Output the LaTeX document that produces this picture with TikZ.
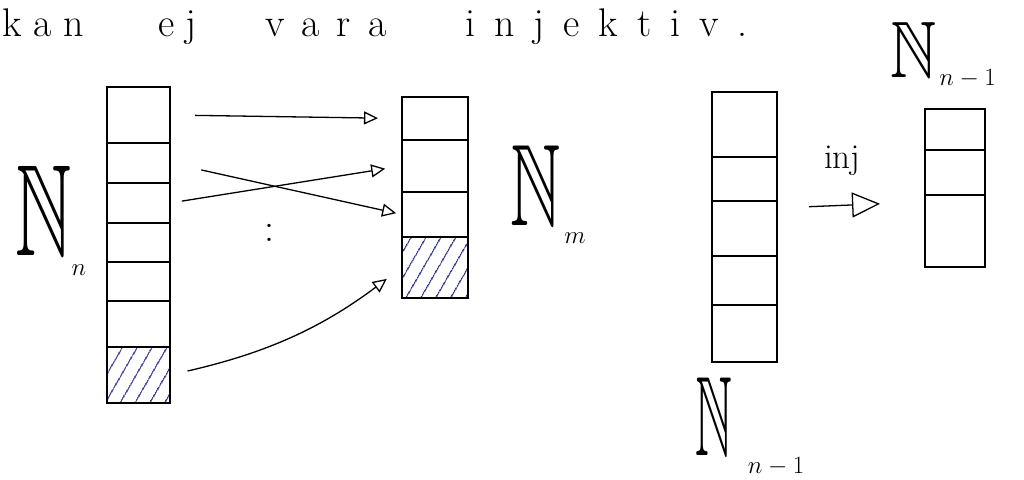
\documentclass[tikz,border=0pt]{standalone}
\usepackage{fontspec}
\usepackage{amssymb}
\usepackage{graphicx}
\usetikzlibrary{arrows.meta,patterns.meta}
\definecolor{hatchblue}{RGB}{40,40,145}
% blackboard N with a lowered subscript:
% #1 size of N, #2 horizontal squeeze, #3 subscript size, #4 drop, #5 subscript, #6 gap
\newcommand{\natlab}[6]{%
  \scalebox{#2}[1]{\fontsize{#1}{#1}\selectfont$\mathbb{N}$}%
  \hspace{#6}%
  \raisebox{-#4}{\fontsize{#3}{#3}\selectfont$#5$}}
\begin{document}
\begin{tikzpicture}[x=1pt,y=-1pt,
  cell/.style={draw, line width=1.4pt, inner sep=0pt, outer sep=0pt},
  hatch/.style={pattern={Lines[angle=60,distance=13pt,line width=1.3pt]}, pattern color=hatchblue},
  map/.style={line width=1.3pt, -{Triangle[open,length=14pt,width=13pt,line width=1.3pt]}},
  bigmap/.style={line width=1.3pt, -{Triangle[open,length=28pt,width=25pt,line width=1.3pt]}},
  words/.style={anchor=base west, inner sep=0pt, font=\fontsize{40}{40}\selectfont},
  lab/.style={anchor=base west, inner sep=0pt},
]
\useasboundingbox (0,0) rectangle (1024,479);

% heading, written with wide letter gaps
\node[words] (w1) at (2,36)   {k\hspace{12pt}a\hspace{12pt}n};
\node[words] (w2) at (158,36) {e\hspace{11pt}j};
\node[words] (w3) at (265,36) {v\hspace{17pt}a\hspace{17pt}r\hspace{17pt}a};
\node[words] (w4) at (465,36) {i\hspace{19pt}n\hspace{19pt}j\hspace{19pt}e\hspace{19pt}k\hspace{19pt}t\hspace{19pt}i\hspace{19pt}v\hspace{19pt}.};

% column N_n
\node[cell, minimum width=63pt, minimum height=56pt] (a1) at (138.5,115) {};
\node[cell, minimum width=63pt, minimum height=40pt] (a2) at (138.5,163) {};
\node[cell, minimum width=63pt, minimum height=40pt] (a3) at (138.5,203) {};
\node[cell, minimum width=63pt, minimum height=39pt] (a4) at (138.5,242.5) {};
\node[cell, minimum width=63pt, minimum height=39pt] (a5) at (138.5,281.5) {};
\node[cell, minimum width=63pt, minimum height=46pt] (a6) at (138.5,324) {};
\node[cell, hatch, minimum width=63pt, minimum height=56pt] (a7) at (138.5,375) {};

% column N_m
\node[cell, minimum width=66pt, minimum height=43pt] (b1) at (435,118.5) {};
\node[cell, minimum width=66pt, minimum height=52pt] (b2) at (435,166) {};
\node[cell, minimum width=66pt, minimum height=45pt] (b3) at (435,214.5) {};
\node[cell, hatch, minimum width=66pt, minimum height=61pt] (b4) at (435,267.5) {};

% column N_{n-1}
\node[cell, minimum width=65pt, minimum height=65pt] (c1) at (744.5,124.5) {};
\node[cell, minimum width=65pt, minimum height=44pt] (c2) at (744.5,179) {};
\node[cell, minimum width=65pt, minimum height=55pt] (c3) at (744.5,228.5) {};
\node[cell, minimum width=65pt, minimum height=49pt] (c4) at (744.5,280.5) {};
\node[cell, minimum width=65pt, minimum height=57pt] (c5) at (744.5,333.5) {};

% small column N_{n-1}
\node[cell, minimum width=60pt, minimum height=41pt] (d1) at (955,129.5) {};
\node[cell, minimum width=60pt, minimum height=45pt] (d2) at (955,172.5) {};
\node[cell, minimum width=60pt, minimum height=72pt] (d3) at (955,231) {};

% the map N_n -> N_m
\draw[map, shorten <=25pt, shorten >=24pt] (a1.east) -- (b1.west);
\draw[map, shorten <=32pt, shorten >=6pt]  (a2.east) -- (b3.west);
\draw[map, shorten <=12pt, shorten >=17pt] (a3.east) -- (b2.west);
\draw[map, shorten <=18pt, shorten >=19pt] (a7.east) to[bend right=12] (b4.west);
\node[anchor=base, inner sep=0pt, font=\fontsize{40}{40}\selectfont] (etc) at (269,241) {:};

% the injection
\draw[bigmap, shorten <=32pt, shorten >=45pt]
  ([yshift=-7pt]c3.north east) -- ([yshift=-7pt]d2.south west);
\node[lab, font=\fontsize{35}{35}\selectfont] (inj) at (824,168) {inj};

% set labels
\node[lab] (Nn)  at (15,255)  {\natlab{130}{0.6}{36}{20pt}{n}{0pt}};
\node[lab] (Nm)  at (510,225) {\natlab{116}{0.6}{34}{18pt}{m}{4pt}};
\node[lab] (Nt)  at (890,77)  {\natlab{80}{0.8}{26}{8pt}{n-1}{3pt}};
\node[lab] (Nb)  at (695,455) {\natlab{113}{0.45}{30}{18pt}{n-1}{16pt}};
\end{tikzpicture}
\end{document}
